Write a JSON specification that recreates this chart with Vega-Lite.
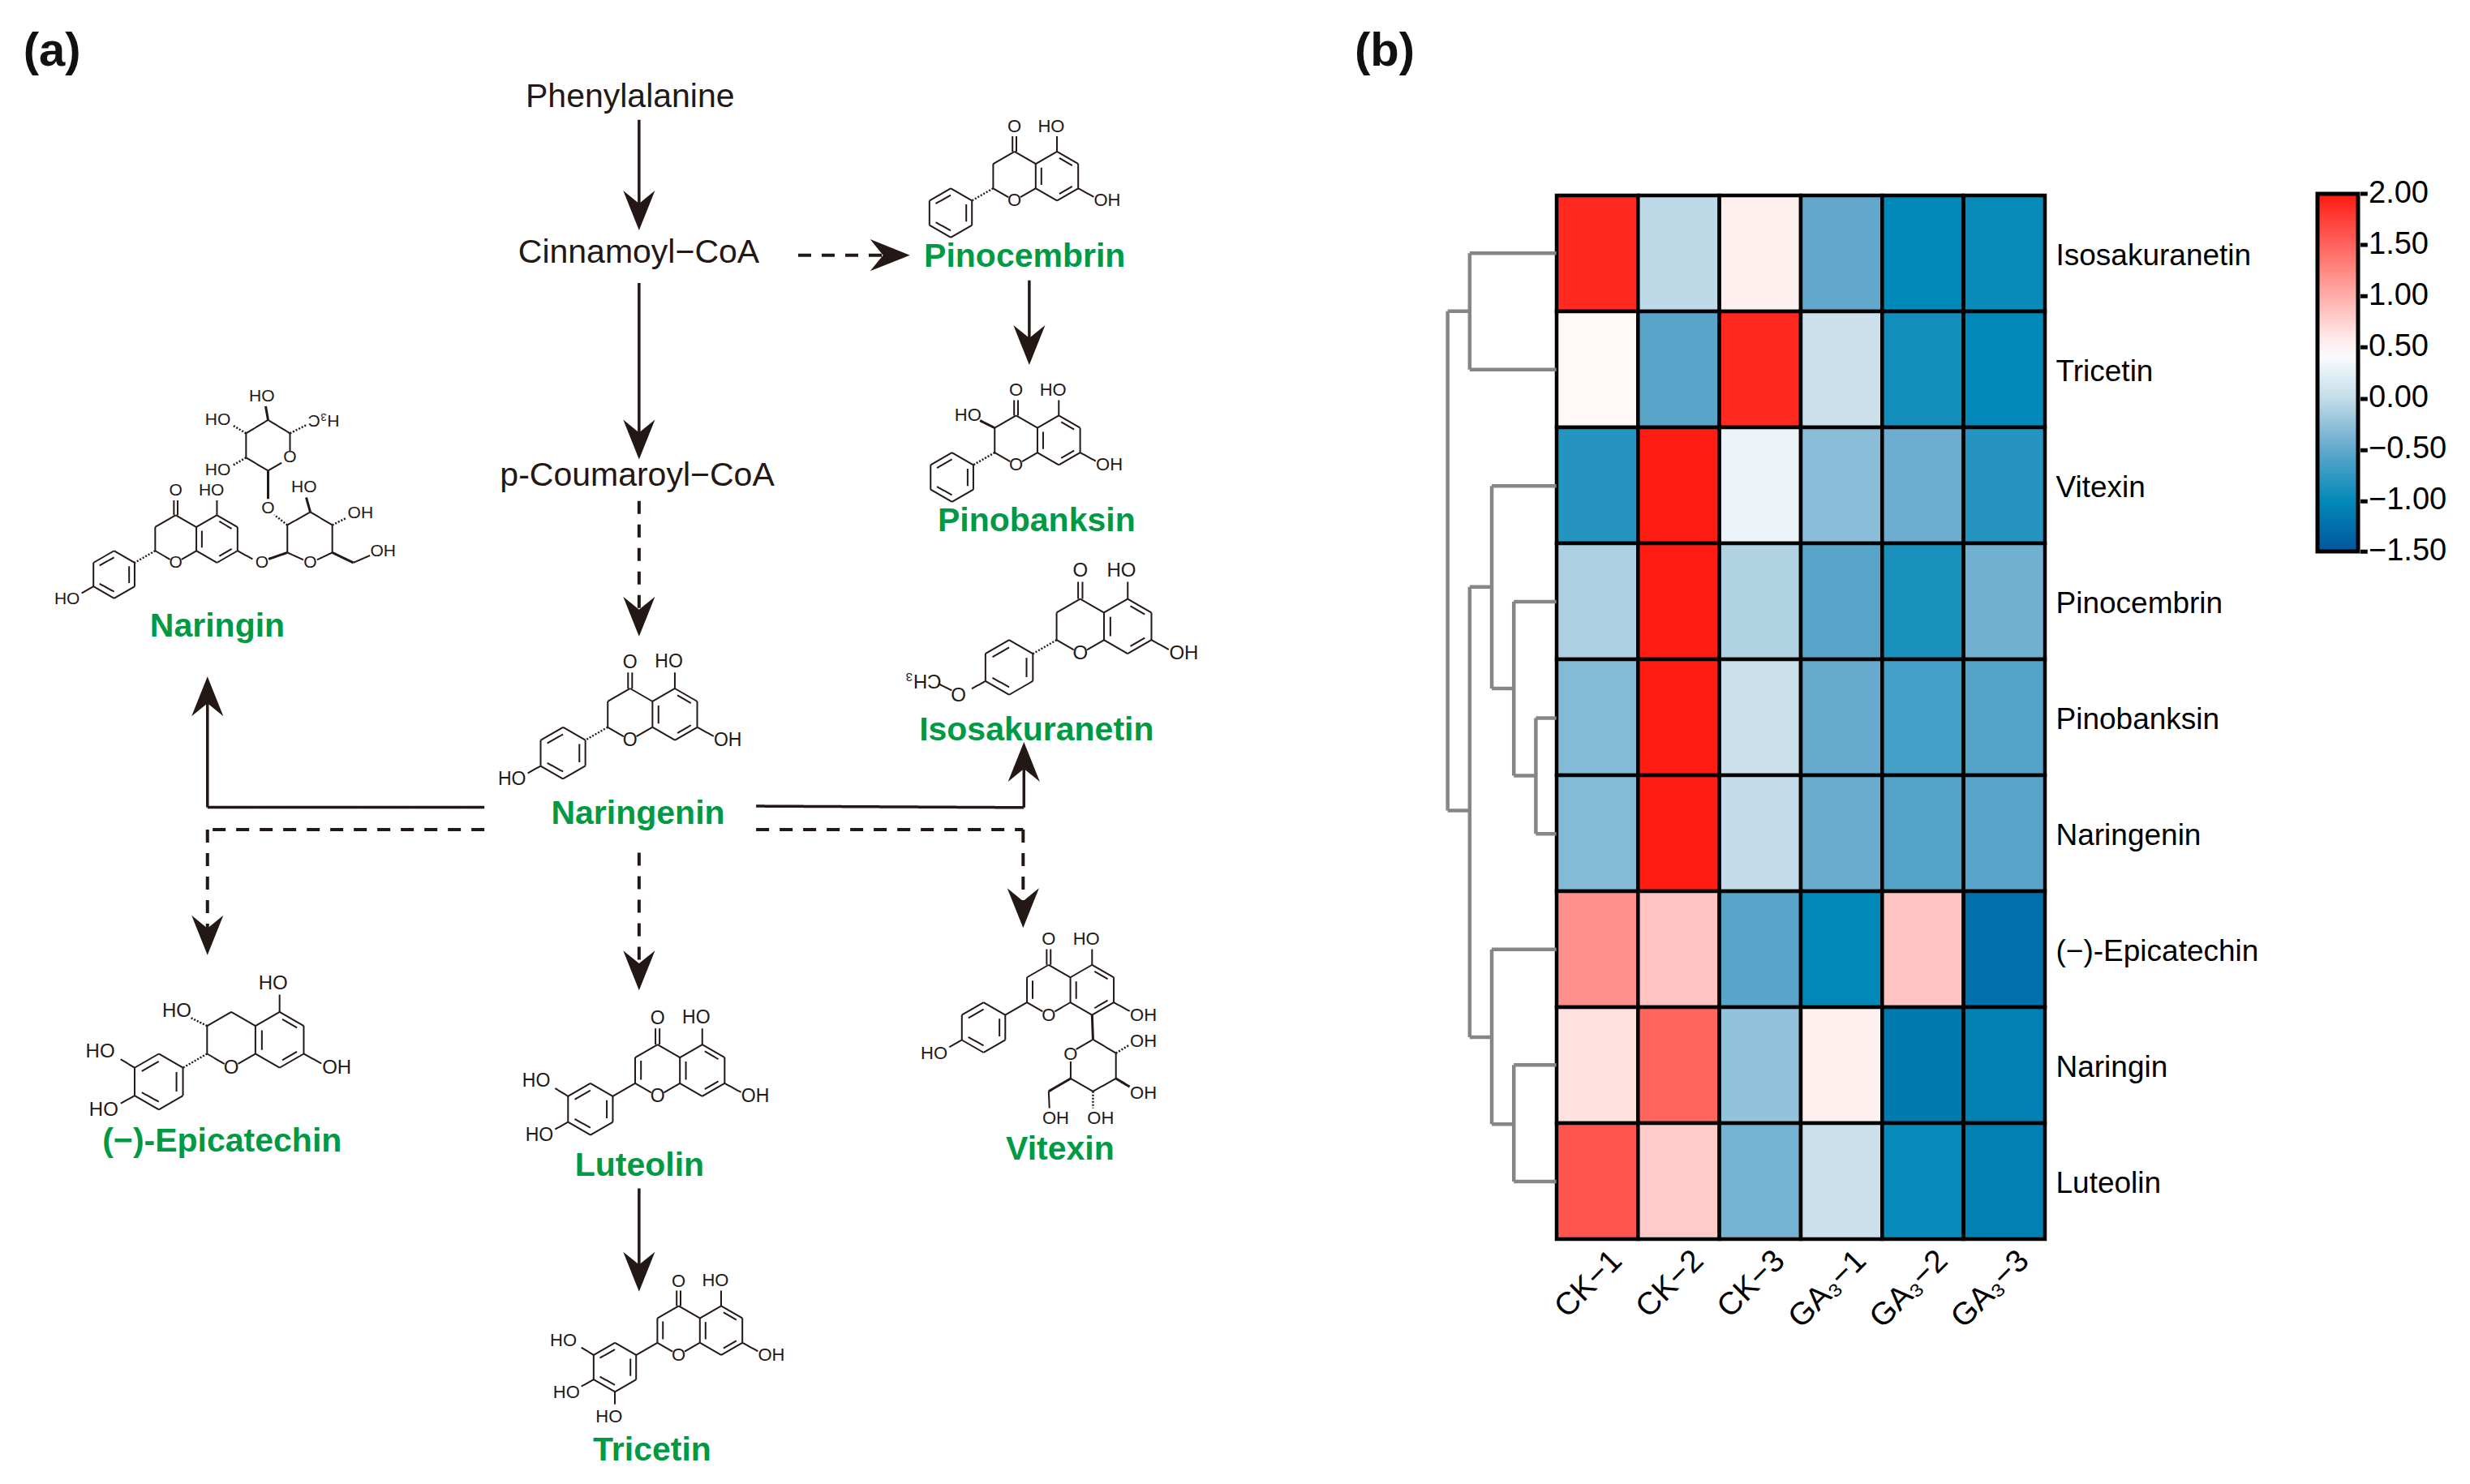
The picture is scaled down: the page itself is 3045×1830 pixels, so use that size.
{
"$schema":"https://vega.github.io/schema/vega-lite/v6.json",
"width":3045,"height":1830,"padding":0,"autosize":{"type":"none"},"background":"white",
"config":{"font":"Liberation Sans","view":{"stroke":null}},
"resolve":{"scale":{"x":"independent","y":"independent"}},
"datasets":{
"heat":[
{"s":"CK−1","m":"Isosakuranetin","v":1.9},{"s":"CK−2","m":"Isosakuranetin","v":-0.03},{"s":"CK−3","m":"Isosakuranetin","v":0.55},{"s":"GA₃−1","m":"Isosakuranetin","v":-0.5},{"s":"GA₃−2","m":"Isosakuranetin","v":-1.02},{"s":"GA₃−3","m":"Isosakuranetin","v":-0.97},
{"s":"CK−1","m":"Tricetin","v":0.5},{"s":"CK−2","m":"Tricetin","v":-0.55},{"s":"CK−3","m":"Tricetin","v":1.9},{"s":"GA₃−1","m":"Tricetin","v":0.05},{"s":"GA₃−2","m":"Tricetin","v":-0.92},{"s":"GA₃−3","m":"Tricetin","v":-1.02},
{"s":"CK−1","m":"Vitexin","v":-0.82},{"s":"CK−2","m":"Vitexin","v":1.98},{"s":"CK−3","m":"Vitexin","v":0.3},{"s":"GA₃−1","m":"Vitexin","v":-0.3},{"s":"GA₃−2","m":"Vitexin","v":-0.45},{"s":"GA₃−3","m":"Vitexin","v":-0.82},
{"s":"CK−1","m":"Pinocembrin","v":-0.12},{"s":"CK−2","m":"Pinocembrin","v":1.98},{"s":"CK−3","m":"Pinocembrin","v":-0.1},{"s":"GA₃−1","m":"Pinocembrin","v":-0.55},{"s":"GA₃−2","m":"Pinocembrin","v":-0.88},{"s":"GA₃−3","m":"Pinocembrin","v":-0.42},
{"s":"CK−1","m":"Pinobanksin","v":-0.33},{"s":"CK−2","m":"Pinobanksin","v":1.98},{"s":"CK−3","m":"Pinobanksin","v":0.05},{"s":"GA₃−1","m":"Pinobanksin","v":-0.48},{"s":"GA₃−2","m":"Pinobanksin","v":-0.65},{"s":"GA₃−3","m":"Pinobanksin","v":-0.58},
{"s":"CK−1","m":"Naringenin","v":-0.33},{"s":"CK−2","m":"Naringenin","v":1.98},{"s":"CK−3","m":"Naringenin","v":0.0},{"s":"GA₃−1","m":"Naringenin","v":-0.46},{"s":"GA₃−2","m":"Naringenin","v":-0.58},{"s":"GA₃−3","m":"Naringenin","v":-0.55},
{"s":"CK−1","m":"(−)-Epicatechin","v":1.2},{"s":"CK−2","m":"(−)-Epicatechin","v":0.85},{"s":"CK−3","m":"(−)-Epicatechin","v":-0.55},{"s":"GA₃−1","m":"(−)-Epicatechin","v":-1.02},{"s":"GA₃−2","m":"(−)-Epicatechin","v":0.85},{"s":"GA₃−3","m":"(−)-Epicatechin","v":-1.25},
{"s":"CK−1","m":"Naringin","v":0.65},{"s":"CK−2","m":"Naringin","v":1.5},{"s":"CK−3","m":"Naringin","v":-0.25},{"s":"GA₃−1","m":"Naringin","v":0.55},{"s":"GA₃−2","m":"Naringin","v":-1.15},{"s":"GA₃−3","m":"Naringin","v":-1.1},
{"s":"CK−1","m":"Luteolin","v":1.6},{"s":"CK−2","m":"Luteolin","v":0.8},{"s":"CK−3","m":"Luteolin","v":-0.4},{"s":"GA₃−1","m":"Luteolin","v":0.05},{"s":"GA₃−2","m":"Luteolin","v":-0.98},{"s":"GA₃−3","m":"Luteolin","v":-1.1}
],
"paths":[
{"a":405.7,"b":76,"c":405.7,"d":135,"k":"m"},{"a":405.7,"b":179.6,"c":405.7,"d":280,"k":"m"},{"a":653.4,"b":178,"c":653.4,"d":220,"k":"m"},{"a":405.7,"b":754.4,"c":405.7,"d":808,"k":"m"},
{"a":307.5,"b":512.5,"c":131.7,"d":512.5,"k":"m"},{"a":131.7,"b":512.5,"c":131.7,"d":445,"k":"m"},{"a":480,"b":511.7,"c":650,"d":512.6,"k":"m"},{"a":650,"b":512.6,"c":650,"d":485,"k":"m"},
{"a":405.7,"b":318,"c":405.7,"d":392,"k":"d"},{"a":506.7,"b":162,"c":560,"d":162,"k":"d"},{"a":307.5,"b":526.6,"c":131.7,"d":526.6,"k":"d"},{"a":131.7,"b":526.6,"c":131.7,"d":594,"k":"d"},{"a":480,"b":526.6,"c":649.5,"d":526.6,"k":"d"},{"a":649.5,"b":526.6,"c":649.5,"d":577,"k":"d"},{"a":405.7,"b":541.3,"c":405.7,"d":617,"k":"d"},
{"a":933,"b":160.7,"c":988,"d":160.7,"k":"g"},{"a":933,"b":234.6,"c":988,"d":234.6,"k":"g"},{"a":933,"b":160.7,"c":933,"d":234.6,"k":"g"},
{"a":919,"b":197.6,"c":919,"d":514.5,"k":"g"},{"a":919,"b":197.6,"c":933,"d":197.6,"k":"g"},{"a":919,"b":514.5,"c":933,"d":514.5,"k":"g"},
{"a":933,"b":372.6,"c":933,"d":658.4,"k":"g"},{"a":933,"b":372.6,"c":947,"d":372.6,"k":"g"},{"a":933,"b":658.4,"c":947,"d":658.4,"k":"g"},
{"a":947,"b":308.5,"c":947,"d":437,"k":"g"},{"a":947,"b":308.5,"c":988,"d":308.5,"k":"g"},{"a":947,"b":437,"c":961,"d":437,"k":"g"},
{"a":961,"b":381.9,"c":961,"d":492.3,"k":"g"},{"a":961,"b":381.9,"c":988,"d":381.9,"k":"g"},{"a":961,"b":492.3,"c":975,"d":492.3,"k":"g"},
{"a":975,"b":455.8,"c":975,"d":529.3,"k":"g"},{"a":975,"b":455.8,"c":988,"d":455.8,"k":"g"},{"a":975,"b":529.3,"c":988,"d":529.3,"k":"g"},
{"a":947,"b":602.7,"c":947,"d":713.6,"k":"g"},{"a":947,"b":602.7,"c":988,"d":602.7,"k":"g"},{"a":947,"b":713.6,"c":961,"d":713.6,"k":"g"},
{"a":961,"b":676,"c":961,"d":750,"k":"g"},{"a":961,"b":676,"c":988,"d":676,"k":"g"},{"a":961,"b":750,"c":988,"d":750,"k":"g"},
{"a":1498.5,"b":123,"c":1503,"d":123,"k":"t"},{"a":1498.5,"b":155.5,"c":1503,"d":155.5,"k":"t"},{"a":1498.5,"b":188,"c":1503,"d":188,"k":"t"},{"a":1498.5,"b":220.4,"c":1503,"d":220.4,"k":"t"},{"a":1498.5,"b":253.3,"c":1503,"d":253.3,"k":"t"},{"a":1498.5,"b":285.8,"c":1503,"d":285.8,"k":"t"},{"a":1498.5,"b":318.2,"c":1503,"d":318.2,"k":"t"},{"a":1498.5,"b":350.2,"c":1503,"d":350.2,"k":"t"}
],
"heads":[
{"a":405.7,"b":133.6,"r":0},{"a":405.7,"b":279,"r":0},{"a":405.7,"b":391.4,"r":0},{"a":653.4,"b":219,"r":0},{"a":131.7,"b":593.7,"r":0},{"a":649.5,"b":576.4,"r":0},{"a":405.7,"b":616,"r":0},{"a":405.7,"b":807.2,"r":0},
{"a":131.7,"b":442,"r":180},{"a":650,"b":483.6,"r":180},{"a":565,"b":162,"r":270}
],
"texts":[
{"a":400,"b":62,"t":"Phenylalanine","k":"m"},{"a":405.5,"b":160.5,"t":"Cinnamoyl−CoA","k":"m"},{"a":404.5,"b":302,"t":"p-Coumaroyl−CoA","k":"m"},
{"a":650.5,"b":163,"t":"Pinocembrin","k":"g"},{"a":658,"b":331,"t":"Pinobanksin","k":"g"},{"a":138,"b":398,"t":"Naringin","k":"g"},{"a":658,"b":464,"t":"Isosakuranetin","k":"g"},{"a":405,"b":517,"t":"Naringenin","k":"g"},{"a":141,"b":725,"t":"(−)-Epicatechin","k":"g"},{"a":406,"b":740,"t":"Luteolin","k":"g"},{"a":673,"b":730,"t":"Vitexin","k":"g"},{"a":414,"b":921,"t":"Tricetin","k":"g"},
{"a":33,"b":33,"t":"(a)","k":"p"},{"a":879,"b":33,"t":"(b)","k":"p"}
],
"bonds":[
{"a":-14.2,"b":-8.2,"c":-4,"d":-2.3,"g":"core","k":"s"},{"a":4,"b":-2.3,"c":14.2,"d":-8.2,"g":"core","k":"s"},{"a":-14.2,"b":-8.2,"c":-14.2,"d":-24.6,"g":"core","k":"s"},{"a":-14.2,"b":-24.6,"c":0,"d":-32.8,"g":"core","k":"s"},{"a":0,"b":-32.8,"c":14.2,"d":-24.6,"g":"core","k":"s"},{"a":14.2,"b":-24.6,"c":14.2,"d":-8.2,"g":"core","k":"s"},{"a":14.2,"b":-24.6,"c":28.4,"d":-32.8,"g":"core","k":"s"},{"a":28.4,"b":-32.8,"c":42.6,"d":-24.6,"g":"core","k":"s"},{"a":42.6,"b":-24.6,"c":42.6,"d":-8.2,"g":"core","k":"s"},{"a":42.6,"b":-8.2,"c":28.4,"d":0,"g":"core","k":"s"},{"a":28.4,"b":0,"c":14.2,"d":-8.2,"g":"core","k":"s"},
{"a":30,"b":-28.5,"c":38.6,"d":-23.5,"g":"core","k":"s"},{"a":38.6,"b":-9.5,"c":30,"d":-4.5,"g":"core","k":"s"},{"a":18,"b":-22,"c":18,"d":-10.5,"g":"core","k":"s"},
{"a":28.4,"b":-32.8,"c":28.4,"d":-43,"g":"core","k":"s"},{"a":42.6,"b":-8.2,"c":53,"d":-2.5,"g":"core","k":"s"},
{"a":-28.4,"b":0,"c":-42.6,"d":-8.2,"g":"core","k":"s"},{"a":-42.6,"b":-8.2,"c":-56.8,"d":0,"g":"core","k":"s"},{"a":-56.8,"b":0,"c":-56.8,"d":16.4,"g":"core","k":"s"},{"a":-56.8,"b":16.4,"c":-42.6,"d":24.6,"g":"core","k":"s"},{"a":-42.6,"b":24.6,"c":-28.4,"d":16.4,"g":"core","k":"s"},{"a":-28.4,"b":16.4,"c":-28.4,"d":0,"g":"core","k":"s"},
{"a":-32.2,"b":2.5,"c":-32.2,"d":14,"g":"core","k":"s"},{"a":-42.6,"b":-3.7,"c":-52.6,"d":2,"g":"core","k":"s"},{"a":-52.6,"b":14.5,"c":-42.6,"d":20,"g":"core","k":"s"},
{"a":-1.3,"b":-32.8,"c":-1.3,"d":-43,"g":"co","k":"s"},{"a":1.3,"b":-32.8,"c":1.3,"d":-43,"g":"co","k":"s"},
{"a":-14.2,"b":-8.2,"c":-28.4,"d":0,"g":"h2","k":"h"},
{"a":-14.2,"b":-8.2,"c":-28.4,"d":0,"g":"fl","k":"s"},{"a":-10.5,"b":-10.5,"c":-10.5,"d":-22.5,"g":"fl","k":"s"},
{"a":-56.8,"b":16.4,"c":-65,"d":21,"g":"poh","k":"s"},{"a":-56.8,"b":0,"c":-65,"d":-5,"g":"moh","k":"s"},{"a":-42.6,"b":24.6,"c":-42.6,"d":33,"g":"boh","k":"s"},
{"a":-14.2,"b":-24.6,"c":-24,"d":-29.5,"g":"w3","k":"w"},{"a":-14.2,"b":-24.6,"c":-24,"d":-29.5,"g":"h3","k":"h"},
{"a":-77,"b":22,"c":-85,"d":18,"g":"meo","k":"s"},
{"a":28.4,"b":0,"c":29,"d":16,"g":"vit","k":"w"},{"a":29,"b":16,"c":44,"d":25,"g":"vit","k":"s"},{"a":44,"b":25,"c":44,"d":41.6,"g":"vit","k":"s"},{"a":44,"b":41.6,"c":29,"d":50,"g":"vit","k":"s"},{"a":29,"b":50,"c":14.4,"d":41.6,"g":"vit","k":"s"},{"a":29,"b":16,"c":18,"d":22.5,"g":"vit","k":"s"},{"a":14.4,"b":30.5,"c":14.4,"d":41.6,"g":"vit","k":"s"},{"a":44,"b":25,"c":53,"d":19.5,"g":"vit","k":"h"},{"a":44,"b":41.6,"c":53,"d":47,"g":"vit","k":"w"},{"a":29,"b":50,"c":29,"d":61,"g":"vit","k":"h"},{"a":14.4,"b":41.6,"c":0,"d":50,"g":"vit","k":"w"},{"a":0,"b":50,"c":0.5,"d":61,"g":"vit","k":"s"},
{"a":77,"b":-7,"c":88,"d":-2,"g":"nar","k":"s"},{"a":97.5,"b":-2,"c":108,"d":-7,"g":"nar","k":"s"},{"a":77,"b":-7,"c":77,"d":-26,"g":"nar","k":"s"},{"a":77,"b":-26,"c":92.8,"d":-35,"g":"nar","k":"s"},{"a":92.8,"b":-35,"c":108,"d":-26,"g":"nar","k":"s"},{"a":108,"b":-26,"c":108,"d":-7,"g":"nar","k":"s"},{"a":64,"b":-2.5,"c":77,"d":-7,"g":"nar","k":"w"},{"a":108,"b":-7,"c":122.5,"d":0,"g":"nar","k":"w"},{"a":122.5,"b":0,"c":134,"d":-5,"g":"nar","k":"s"},{"a":108,"b":-26,"c":118,"d":-31,"g":"nar","k":"h"},{"a":92.8,"b":-35,"c":90,"d":-45,"g":"nar","k":"w"},{"a":77,"b":-26,"c":68,"d":-33,"g":"nar","k":"h"},{"a":63.7,"b":-44,"c":63.7,"d":-63.5,"g":"nar","k":"w"},
{"a":63.7,"b":-63.5,"c":73,"d":-69,"g":"nar","k":"s"},{"a":78.8,"b":-77,"c":78.8,"d":-89.3,"g":"nar","k":"s"},{"a":78.8,"b":-89.3,"c":63.7,"d":-98.5,"g":"nar","k":"s"},{"a":63.7,"b":-98.5,"c":48.5,"d":-89.3,"g":"nar","k":"s"},{"a":48.5,"b":-89.3,"c":48.5,"d":-72.5,"g":"nar","k":"s"},{"a":48.5,"b":-72.5,"c":63.7,"d":-63.5,"g":"nar","k":"s"},{"a":78.8,"b":-89.3,"c":90,"d":-95,"g":"nar","k":"h"},{"a":63.7,"b":-98.5,"c":62,"d":-108,"g":"nar","k":"w"},{"a":48.5,"b":-89.3,"c":39,"d":-95,"g":"nar","k":"h"},{"a":48.5,"b":-72.5,"c":39,"d":-67,"g":"nar","k":"h"}
],
"atoms":[
{"a":0,"b":0,"t":"O","g":"core"},{"a":24.6,"b":-49.6,"t":"HO","g":"core"},
{"a":62,"b":0,"t":"OH","g":"oh7"},{"a":0,"b":-49.5,"t":"O","g":"co"},
{"a":-75,"b":25,"t":"HO","g":"poh"},{"a":-77,"b":-9.5,"t":"HO","g":"moh"},{"a":-46.5,"b":41,"t":"HO","g":"boh"},{"a":-32,"b":-33,"t":"HO","g":"oh3"},
{"a":-73,"b":25,"t":"O","g":"meo"},{"a":-94,"b":16,"t":"CH₃","r":180,"g":"meo"},
{"a":14.4,"b":25.8,"t":"O","g":"vit"},{"a":62,"b":17.3,"t":"OH","g":"vit"},{"a":62,"b":51,"t":"OH","g":"vit"},{"a":34,"b":67.7,"t":"OH","g":"vit"},{"a":4.6,"b":67.7,"t":"OH","g":"vit"},
{"a":59.4,"b":0,"t":"O","g":"nar"},{"a":92.8,"b":0,"t":"O","g":"nar"},{"a":143,"b":-7.9,"t":"OH","g":"nar"},{"a":127.4,"b":-33.9,"t":"OH","g":"nar"},{"a":88.5,"b":-51.8,"t":"HO","g":"nar"},{"a":63.7,"b":-37.5,"t":"O","g":"nar"},{"a":78.8,"b":-72.5,"t":"O","g":"nar"},{"a":29,"b":-63.5,"t":"HO","g":"nar"},{"a":29,"b":-98.2,"t":"HO","g":"nar"},{"a":59.4,"b":-114.6,"t":"HO","g":"nar"},{"a":102,"b":-98.5,"t":"H₃C","r":180,"g":"nar"}
]
},
"layer":[
{"data":{"name":"heat"},"mark":{"type":"rect","stroke":"black","strokeWidth":4.5},
 "encoding":{
  "x":{"field":"s","type":"nominal","sort":null,"scale":{"domain":["CK−1","CK−2","CK−3","GA₃−1","GA₃−2","GA₃−3"],"range":[1919,2521],"paddingInner":0,"paddingOuter":0},"axis":{"orient":"bottom","offset":-302,"title":null,"domain":false,"ticks":false,"grid":false,"labelAngle":-45,"labelAlign":"right","labelBaseline":"middle","labelPadding":20,"labelOffset":24,"labelFontSize":39,"labelColor":"black","labelFont":"Liberation Sans","labelLimit":0}},
  "y":{"field":"m","type":"nominal","sort":null,"scale":{"domain":["Isosakuranetin","Tricetin","Vitexin","Pinocembrin","Pinobanksin","Naringenin","(−)-Epicatechin","Naringin","Luteolin"],"range":[241,1528],"paddingInner":0,"paddingOuter":0},"axis":{"orient":"right","offset":-524,"title":null,"domain":false,"ticks":false,"grid":false,"labelPadding":13,"labelOffset":3,"labelFontSize":37,"labelColor":"black","labelFont":"Liberation Sans","labelLimit":0}},
  "fill":{"field":"v","type":"quantitative","scale":{"interpolate":"rgb","domain":[-1.5,-1.02,-0.5,0,0.45,2],"range":["#03569c","#0088b8","#62a8cc","#c4dce9","#ffffff","#ff1a10"]},
   "legend":{"type":"gradient","orient":"none","legendX":2857,"legendY":239,"gradientLength":441,"gradientThickness":50,"gradientStrokeColor":"black","gradientStrokeWidth":5,"values":[-1.5,-1,-0.5,0,0.5,1,1.5,2],"format":".2f","labelFontSize":38,"labelColor":"black","labelOffset":13,"labelOverlap":false,"title":null,"padding":0,"encode":{"labels":{"update":{"baseline":{"value":"middle"}}}}}}
 }},
{"encoding":{
  "x":{"field":"a","type":"quantitative","axis":null,"scale":{"domain":[0,1568],"range":[0,3045]}},
  "y":{"field":"b","type":"quantitative","axis":null,"scale":{"domain":[0,942],"range":[0,1830]}}},
 "layer":[
 {"data":{"name":"paths"},"mark":{"type":"rule"},"encoding":{"x2":{"field":"c"},"y2":{"field":"d"},
   "stroke":{"field":"k","type":"nominal","legend":null,"scale":{"domain":["s","h","w","m","d","g","t"],"range":["#231815","#231815","#231815","#231815","#231815","#868686","#000000"]}},
   "strokeWidth":{"field":"k","type":"nominal","legend":null,"scale":{"domain":["s","h","w","m","d","g","t"],"range":[2,5,4,6,5.5,5.5,4]}},
   "strokeDash":{"field":"k","type":"nominal","legend":null,"scale":{"domain":["s","h","w","m","d","g","t"],"range":[[1,0],[2,2],[1,0],[1,0],[16,13],[1,0],[1,0]]}}}},
 {"data":{"name":"heads"},"mark":{"type":"point","filled":true,"opacity":1,"color":"#231815","size":2401,"shape":"M0,1 L-0.8,-1 L0,-0.35 L0.8,-1 Z"},"encoding":{"angle":{"field":"r","type":"quantitative","scale":null}}},
 {"data":{"name":"texts"},"transform":[{"filter":{"field":"k","equal":"m"}}],"mark":{"type":"text","fontSize":41,"color":"#231815","font":"Liberation Sans"},"encoding":{"text":{"field":"t"}}},
 {"data":{"name":"texts"},"transform":[{"filter":{"field":"k","equal":"g"}}],"mark":{"type":"text","fontSize":41,"fontWeight":"bold","color":"#009a44","font":"Liberation Sans"},"encoding":{"text":{"field":"t"}}},
 {"data":{"name":"texts"},"transform":[{"filter":{"field":"k","equal":"p"}}],"mark":{"type":"text","fontSize":58,"fontWeight":"bold","color":"#111111","font":"Liberation Sans"},"encoding":{"text":{"field":"t"}}}
 ]},
{"encoding":{"x":{"field":"a","type":"quantitative","axis":null,"scale":{"domain":[-150,150],"range":[485.5,1068.1]}},"y":{"field":"b","type":"quantitative","axis":null,"scale":{"domain":[-150,150],"range":[621.4,1204]}}},
 "layer":[
 {"data":{"name":"bonds"},"transform":[{"filter":{"field":"g","oneOf":["core","co","h2","poh"]}}],"mark":{"type":"rule","color":"#231815"},"encoding":{"x2":{"field":"c"},"y2":{"field":"d"},"strokeWidth":{"field":"k","type":"nominal","legend":null,"scale":{"domain":["s","h","w","m","d","g","t"],"range":[2,5,4,6,5.5,5.5,4]}},"strokeDash":{"field":"k","type":"nominal","legend":null,"scale":{"domain":["s","h","w","m","d","g","t"],"range":[[1,0],[2,2],[1,0],[1,0],[16,13],[1,0],[1,0]]}}}},
 {"data":{"name":"atoms"},"transform":[{"filter":{"field":"g","oneOf":["core","oh7","co","poh"]}}],"mark":{"type":"text","fontSize":23,"color":"#231815"},"encoding":{"text":{"field":"t"},"angle":{"field":"r","type":"quantitative","scale":null}}}
 ]},
{"encoding":{"x":{"field":"a","type":"quantitative","axis":null,"scale":{"domain":[-150,150],"range":[973.9,1527.3]}},"y":{"field":"b","type":"quantitative","axis":null,"scale":{"domain":[-150,150],"range":[-29.3,524.1]}}},
 "layer":[
 {"data":{"name":"bonds"},"transform":[{"filter":{"field":"g","oneOf":["core","co","h2"]}}],"mark":{"type":"rule","color":"#231815"},"encoding":{"x2":{"field":"c"},"y2":{"field":"d"},"strokeWidth":{"field":"k","type":"nominal","legend":null,"scale":{"domain":["s","h","w","m","d","g","t"],"range":[2,5,4,6,5.5,5.5,4]}},"strokeDash":{"field":"k","type":"nominal","legend":null,"scale":{"domain":["s","h","w","m","d","g","t"],"range":[[1,0],[2,2],[1,0],[1,0],[16,13],[1,0],[1,0]]}}}},
 {"data":{"name":"atoms"},"transform":[{"filter":{"field":"g","oneOf":["core","oh7","co"]}}],"mark":{"type":"text","fontSize":22,"color":"#231815"},"encoding":{"text":{"field":"t"},"angle":{"field":"r","type":"quantitative","scale":null}}}
 ]},
{"encoding":{"x":{"field":"a","type":"quantitative","axis":null,"scale":{"domain":[-150,150],"range":[974.4,1530.8]}},"y":{"field":"b","type":"quantitative","axis":null,"scale":{"domain":[-150,150],"range":[295.1,851.5]}}},
 "layer":[
 {"data":{"name":"bonds"},"transform":[{"filter":{"field":"g","oneOf":["core","co","h2","w3"]}}],"mark":{"type":"rule","color":"#231815"},"encoding":{"x2":{"field":"c"},"y2":{"field":"d"},"strokeWidth":{"field":"k","type":"nominal","legend":null,"scale":{"domain":["s","h","w","m","d","g","t"],"range":[2,5,4,6,5.5,5.5,4]}},"strokeDash":{"field":"k","type":"nominal","legend":null,"scale":{"domain":["s","h","w","m","d","g","t"],"range":[[1,0],[2,2],[1,0],[1,0],[16,13],[1,0],[1,0]]}}}},
 {"data":{"name":"atoms"},"transform":[{"filter":{"field":"g","oneOf":["core","oh7","co","oh3"]}}],"mark":{"type":"text","fontSize":22,"color":"#231815"},"encoding":{"text":{"field":"t"},"angle":{"field":"r","type":"quantitative","scale":null}}}
 ]},
{"encoding":{"x":{"field":"a","type":"quantitative","axis":null,"scale":{"domain":[-150,150],"range":[-51.3,484.7]}},"y":{"field":"b","type":"quantitative","axis":null,"scale":{"domain":[-150,150],"range":[425.9,961.9]}}},
 "layer":[
 {"data":{"name":"bonds"},"transform":[{"filter":{"field":"g","oneOf":["core","co","h2","poh","nar"]}}],"mark":{"type":"rule","color":"#231815"},"encoding":{"x2":{"field":"c"},"y2":{"field":"d"},"strokeWidth":{"field":"k","type":"nominal","legend":null,"scale":{"domain":["s","h","w","m","d","g","t"],"range":[2,5,4,6,5.5,5.5,4]}},"strokeDash":{"field":"k","type":"nominal","legend":null,"scale":{"domain":["s","h","w","m","d","g","t"],"range":[[1,0],[2,2],[1,0],[1,0],[16,13],[1,0],[1,0]]}}}},
 {"data":{"name":"atoms"},"transform":[{"filter":{"field":"g","oneOf":["core","co","poh","nar"]}}],"mark":{"type":"text","fontSize":21,"color":"#231815"},"encoding":{"text":{"field":"t"},"angle":{"field":"r","type":"quantitative","scale":null}}}
 ]},
{"encoding":{"x":{"field":"a","type":"quantitative","axis":null,"scale":{"domain":[-150,150],"range":[1023,1640.6]}},"y":{"field":"b","type":"quantitative","axis":null,"scale":{"domain":[-150,150],"range":[497.3,1114.9]}}},
 "layer":[
 {"data":{"name":"bonds"},"transform":[{"filter":{"field":"g","oneOf":["core","co","h2","poh","meo"]}}],"mark":{"type":"rule","color":"#231815"},"encoding":{"x2":{"field":"c"},"y2":{"field":"d"},"strokeWidth":{"field":"k","type":"nominal","legend":null,"scale":{"domain":["s","h","w","m","d","g","t"],"range":[2,5,4,6,5.5,5.5,4]}},"strokeDash":{"field":"k","type":"nominal","legend":null,"scale":{"domain":["s","h","w","m","d","g","t"],"range":[[1,0],[2,2],[1,0],[1,0],[16,13],[1,0],[1,0]]}}}},
 {"data":{"name":"atoms"},"transform":[{"filter":{"field":"g","oneOf":["core","oh7","co","meo"]}}],"mark":{"type":"text","fontSize":24,"color":"#231815"},"encoding":{"text":{"field":"t"},"angle":{"field":"r","type":"quantitative","scale":null}}}
 ]},
{"encoding":{"x":{"field":"a","type":"quantitative","axis":null,"scale":{"domain":[-150,150],"range":[-29.5,599.7]}},"y":{"field":"b","type":"quantitative","axis":null,"scale":{"domain":[-150,150],"range":[1002.1,1631.3]}}},
 "layer":[
 {"data":{"name":"bonds"},"transform":[{"filter":{"field":"g","oneOf":["core","h2","poh","moh","h3"]}}],"mark":{"type":"rule","color":"#231815"},"encoding":{"x2":{"field":"c"},"y2":{"field":"d"},"strokeWidth":{"field":"k","type":"nominal","legend":null,"scale":{"domain":["s","h","w","m","d","g","t"],"range":[2,5,4,6,5.5,5.5,4]}},"strokeDash":{"field":"k","type":"nominal","legend":null,"scale":{"domain":["s","h","w","m","d","g","t"],"range":[[1,0],[2,2],[1,0],[1,0],[16,13],[1,0],[1,0]]}}}},
 {"data":{"name":"atoms"},"transform":[{"filter":{"field":"g","oneOf":["core","oh7","poh","moh","oh3"]}}],"mark":{"type":"text","fontSize":24,"color":"#231815"},"encoding":{"text":{"field":"t"},"angle":{"field":"r","type":"quantitative","scale":null}}}
 ]},
{"encoding":{"x":{"field":"a","type":"quantitative","axis":null,"scale":{"domain":[-150,150],"range":[519.3,1101.9]}},"y":{"field":"b","type":"quantitative","axis":null,"scale":{"domain":[-150,150],"range":[1060.5,1643.1]}}},
 "layer":[
 {"data":{"name":"bonds"},"transform":[{"filter":{"field":"g","oneOf":["core","co","fl","poh","moh"]}}],"mark":{"type":"rule","color":"#231815"},"encoding":{"x2":{"field":"c"},"y2":{"field":"d"},"strokeWidth":{"field":"k","type":"nominal","legend":null,"scale":{"domain":["s","h","w","m","d","g","t"],"range":[2,5,4,6,5.5,5.5,4]}},"strokeDash":{"field":"k","type":"nominal","legend":null,"scale":{"domain":["s","h","w","m","d","g","t"],"range":[[1,0],[2,2],[1,0],[1,0],[16,13],[1,0],[1,0]]}}}},
 {"data":{"name":"atoms"},"transform":[{"filter":{"field":"g","oneOf":["core","oh7","co","poh","moh"]}}],"mark":{"type":"text","fontSize":23,"color":"#231815"},"encoding":{"text":{"field":"t"},"angle":{"field":"r","type":"quantitative","scale":null}}}
 ]},
{"encoding":{"x":{"field":"a","type":"quantitative","axis":null,"scale":{"domain":[-150,150],"range":[559.9,1113.3]}},"y":{"field":"b","type":"quantitative","axis":null,"scale":{"domain":[-150,150],"range":[1394.2,1947.6]}}},
 "layer":[
 {"data":{"name":"bonds"},"transform":[{"filter":{"field":"g","oneOf":["core","co","fl","poh","moh","boh"]}}],"mark":{"type":"rule","color":"#231815"},"encoding":{"x2":{"field":"c"},"y2":{"field":"d"},"strokeWidth":{"field":"k","type":"nominal","legend":null,"scale":{"domain":["s","h","w","m","d","g","t"],"range":[2,5,4,6,5.5,5.5,4]}},"strokeDash":{"field":"k","type":"nominal","legend":null,"scale":{"domain":["s","h","w","m","d","g","t"],"range":[[1,0],[2,2],[1,0],[1,0],[16,13],[1,0],[1,0]]}}}},
 {"data":{"name":"atoms"},"transform":[{"filter":{"field":"g","oneOf":["core","oh7","co","poh","moh","boh"]}}],"mark":{"type":"text","fontSize":22,"color":"#231815"},"encoding":{"text":{"field":"t"},"angle":{"field":"r","type":"quantitative","scale":null}}}
 ]},
{"encoding":{"x":{"field":"a","type":"quantitative","axis":null,"scale":{"domain":[-150,150],"range":[1010.2,1575.4]}},"y":{"field":"b","type":"quantitative","axis":null,"scale":{"domain":[-150,150],"range":[969,1534.2]}}},
 "layer":[
 {"data":{"name":"bonds"},"transform":[{"filter":{"field":"g","oneOf":["core","co","fl","poh","vit"]}}],"mark":{"type":"rule","color":"#231815"},"encoding":{"x2":{"field":"c"},"y2":{"field":"d"},"strokeWidth":{"field":"k","type":"nominal","legend":null,"scale":{"domain":["s","h","w","m","d","g","t"],"range":[2,5,4,6,5.5,5.5,4]}},"strokeDash":{"field":"k","type":"nominal","legend":null,"scale":{"domain":["s","h","w","m","d","g","t"],"range":[[1,0],[2,2],[1,0],[1,0],[16,13],[1,0],[1,0]]}}}},
 {"data":{"name":"atoms"},"transform":[{"filter":{"field":"g","oneOf":["core","oh7","co","poh","vit"]}}],"mark":{"type":"text","fontSize":22,"color":"#231815"},"encoding":{"text":{"field":"t"},"angle":{"field":"r","type":"quantitative","scale":null}}}
 ]}
]
}
